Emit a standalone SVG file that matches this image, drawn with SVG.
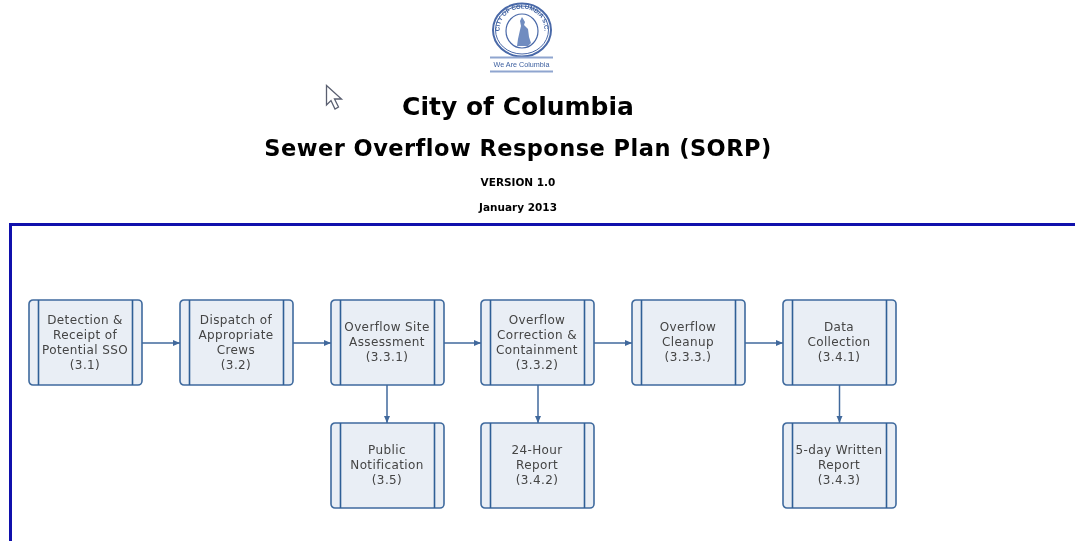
<svg xmlns="http://www.w3.org/2000/svg" width="1075" height="541" viewBox="0 0 1075 541">
<style>
.b{fill:#e9eef5;stroke:#3f6a9e;stroke-width:1.6}
.l{stroke:#2f5f96;stroke-width:1.6;fill:none}
.c{stroke:#41699c;stroke-width:1.5;fill:none;marker-end:url(#a)}
.t{font-family:"DejaVu Sans",sans-serif;font-size:12px;letter-spacing:.38px;fill:#444;text-anchor:middle;filter:url(#soft)}
.h{font-family:"DejaVu Sans",sans-serif;font-weight:bold;fill:#000;text-anchor:middle;filter:url(#soft)}
.s{stroke:#4a69a8;fill:none}
</style>
<defs>
<filter id="soft" x="-5%" y="-20%" width="110%" height="140%"><feGaussianBlur stdDeviation="0.3"/></filter>
<filter id="blur" x="-5%" y="-5%" width="110%" height="110%"><feGaussianBlur stdDeviation="0.45"/></filter>
<marker id="a" markerUnits="userSpaceOnUse" markerWidth="8" markerHeight="8" refX="7" refY="4" orient="auto"><path d="M0 1L7 4L0 7Z" fill="#41699c"/></marker>
<symbol id="box" overflow="visible"><rect class="b" x="0" y="0" width="113" height="85" rx="4"/><path class="l" d="M9.500 0V85M103.500 0V85"/></symbol>
</defs>
<g id="logo" filter="url(#blur)">
<ellipse class="s" cx="522" cy="30" rx="29" ry="26.500" stroke-width="2"/>
<ellipse class="s" cx="522" cy="30" rx="26.500" ry="24" stroke-width="1"/>
<ellipse class="s" cx="522" cy="31" rx="16" ry="17" stroke-width="1.200"/>
<path d="M522 17l3 5-1 3 4 4 1 8 2 6-3 3h-11l1-7 2-9 1-4-1-5z" fill="#6f8cc0"/>
<path id="arc" d="M500 34A22.500 21 0 1 1 544 34" fill="none"/>
<text font-family="Liberation Sans,sans-serif" font-size="6" font-weight="bold" fill="#3c5f9f"><textPath href="#arc" startOffset="50%" text-anchor="middle">CITY OF COLUMBIA S.C.</textPath></text>
<path stroke="#8fa5cf" fill="none" stroke-width="1.800" d="M490 57.500H553M490 71.500H553"/>
<text x="521.500" y="67" font-family="Liberation Sans,sans-serif" font-size="7.200" fill="#3c5f9f" text-anchor="middle">We Are Columbia</text>
</g>
<g id="cursor"><path d="M326.500 85.500V105L331 100.500L335 109L338.500 107L334.500 99H341.500Z" fill="#fff" stroke="#5a5f70" stroke-width="1.300"/></g>
<g id="title">
<text class="h" x="518" y="115" font-size="25">City of Columbia</text>
<text class="h" x="518" y="156" font-size="22.500" letter-spacing=".46">Sewer Overflow Response Plan (SORP)</text>
<text class="h" x="518" y="185.500" font-size="10.500">VERSION 1.0</text>
<text class="h" x="518" y="210.500" font-size="10.500">January 2013</text>
</g>
<path id="frame" d="M10.500 541V224.500H1075" fill="none" stroke="#1010ac" stroke-width="3"/>
<g id="connectors">
<path class="c" d="M142 343H180"/>
<path class="c" d="M293 343H331"/>
<path class="c" d="M444 343H481"/>
<path class="c" d="M594 343H632"/>
<path class="c" d="M745 343H783"/>
<path class="c" d="M387 385V423"/>
<path class="c" d="M538 385V423"/>
<path class="c" d="M839.500 385V423"/>
</g>
<g id="n1"><use href="#box" x="29" y="300"/><text class="t" x="85" y="324">Detection &amp;</text><text class="t" x="85" y="339">Receipt of</text><text class="t" x="85" y="354">Potential SSO</text><text class="t" x="85" y="369">(3.1)</text></g>
<g id="n2"><use href="#box" x="180" y="300"/><text class="t" x="236" y="324">Dispatch of</text><text class="t" x="236" y="339">Appropriate</text><text class="t" x="236" y="354">Crews</text><text class="t" x="236" y="369">(3.2)</text></g>
<g id="n3"><use href="#box" x="331" y="300"/><text class="t" x="387" y="331">Overflow Site</text><text class="t" x="387" y="346">Assessment</text><text class="t" x="387" y="361">(3.3.1)</text></g>
<g id="n4"><use href="#box" x="481" y="300"/><text class="t" x="537" y="324">Overflow</text><text class="t" x="537" y="339">Correction &amp;</text><text class="t" x="537" y="354">Containment</text><text class="t" x="537" y="369">(3.3.2)</text></g>
<g id="n5"><use href="#box" x="632" y="300"/><text class="t" x="688" y="331">Overflow</text><text class="t" x="688" y="346">Cleanup</text><text class="t" x="688" y="361">(3.3.3.)</text></g>
<g id="n6"><use href="#box" x="783" y="300"/><text class="t" x="839" y="331">Data</text><text class="t" x="839" y="346">Collection</text><text class="t" x="839" y="361">(3.4.1)</text></g>
<g id="n7"><use href="#box" x="331" y="423"/><text class="t" x="387" y="454">Public</text><text class="t" x="387" y="469">Notification</text><text class="t" x="387" y="484">(3.5)</text></g>
<g id="n8"><use href="#box" x="481" y="423"/><text class="t" x="537" y="454">24-Hour</text><text class="t" x="537" y="469">Report</text><text class="t" x="537" y="484">(3.4.2)</text></g>
<g id="n9"><use href="#box" x="783" y="423"/><text class="t" x="839" y="454">5-day Written</text><text class="t" x="839" y="469">Report</text><text class="t" x="839" y="484">(3.4.3)</text></g>
</svg>
